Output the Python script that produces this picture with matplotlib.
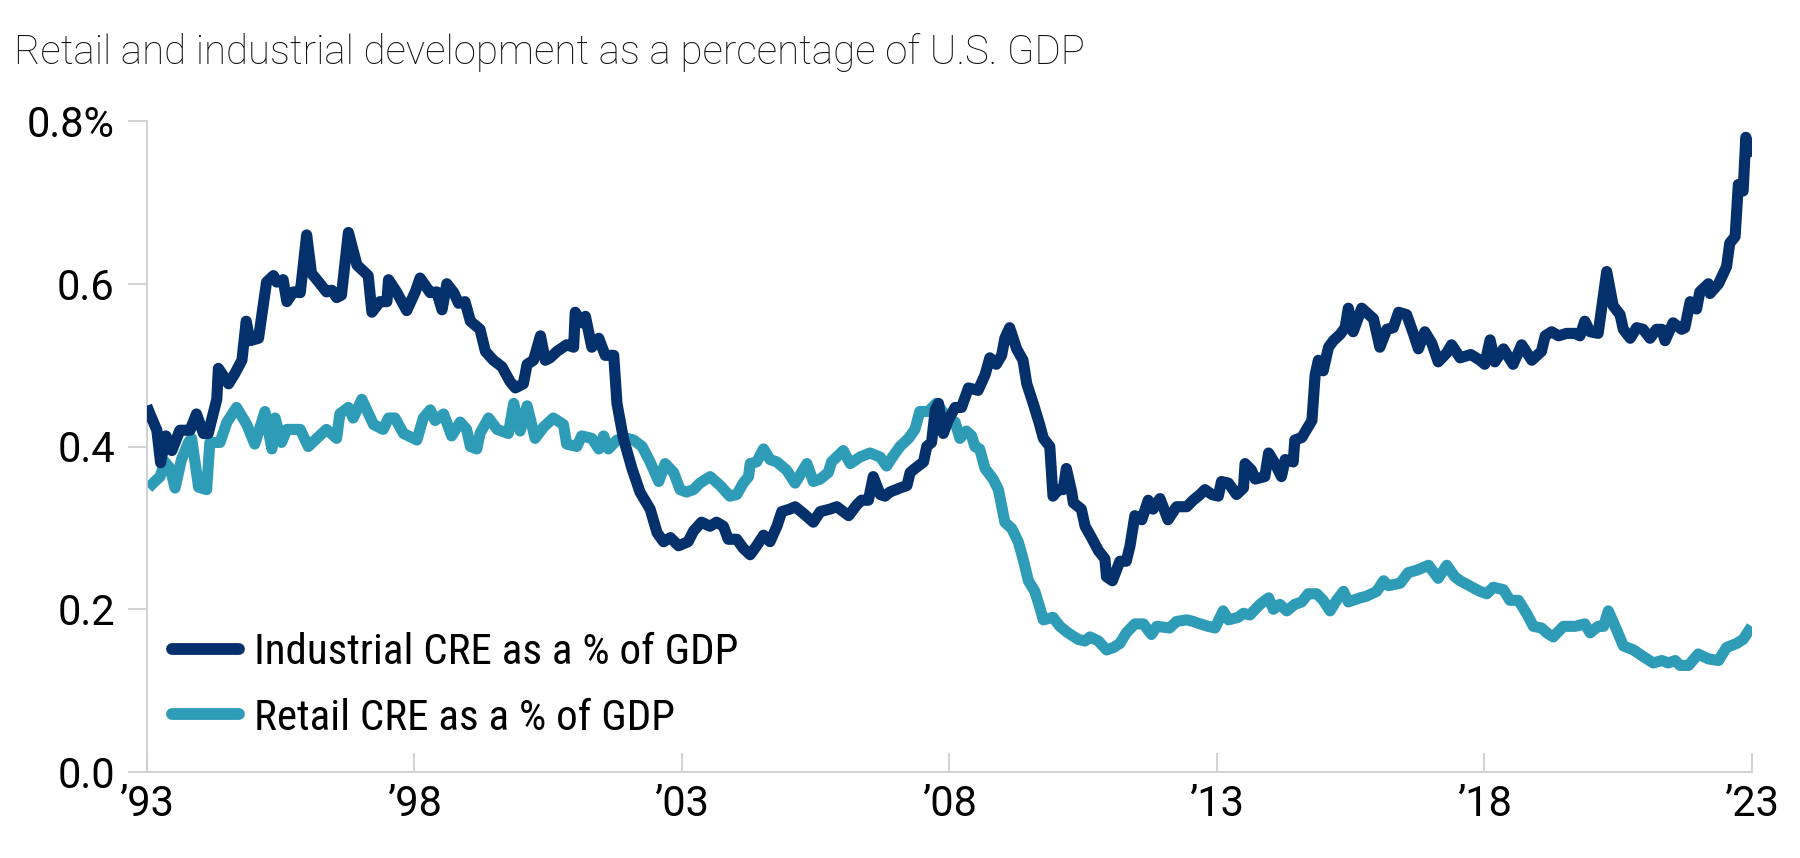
import matplotlib
matplotlib.use("Agg")
import matplotlib.pyplot as plt
from matplotlib import font_manager as fm

# ---------------- data (decimal year, % of GDP) ----------------
ind_years = [
    1993.00, 1993.06, 1993.19, 1993.26, 1993.36, 1993.47, 1993.62, 1993.81, 1993.93, 1994.06,
    1994.15, 1994.31, 1994.34, 1994.53, 1994.65, 1994.78, 1994.86, 1994.93, 1995.09, 1995.24,
    1995.37, 1995.43, 1995.55, 1995.62, 1995.74, 1995.87, 1995.99, 1996.08, 1996.24, 1996.36,
    1996.46, 1996.55, 1996.64, 1996.77, 1996.93, 1997.14, 1997.21, 1997.36, 1997.49, 1997.52,
    1997.67, 1997.86, 1998.02, 1998.11, 1998.30, 1998.42, 1998.52, 1998.61, 1998.74, 1998.83,
    1998.95, 1999.05, 1999.23, 1999.33, 1999.48, 1999.64, 1999.79, 1999.89, 2000.04, 2000.11,
    2000.23, 2000.36, 2000.45, 2000.54, 2000.67, 2000.85, 2000.98, 2001.01, 2001.13, 2001.20,
    2001.32, 2001.45, 2001.57, 2001.73, 2001.79, 2001.91, 2002.07, 2002.22, 2002.41, 2002.54,
    2002.66, 2002.79, 2002.94, 2003.12, 2003.22, 2003.37, 2003.53, 2003.65, 2003.78, 2003.87,
    2004.03, 2004.15, 2004.28, 2004.40, 2004.53, 2004.65, 2004.78, 2004.87, 2005.02, 2005.12,
    2005.27, 2005.46, 2005.59, 2005.77, 2005.90, 2006.12, 2006.27, 2006.36, 2006.49, 2006.58,
    2006.71, 2006.80, 2006.89, 2007.08, 2007.21, 2007.27, 2007.36, 2007.52, 2007.58, 2007.67,
    2007.74, 2007.80, 2007.89, 2007.98, 2008.11, 2008.23, 2008.36, 2008.54, 2008.67, 2008.76,
    2008.88, 2008.98, 2009.04, 2009.13, 2009.26, 2009.38, 2009.45, 2009.57, 2009.69, 2009.76,
    2009.88, 2009.94, 2010.04, 2010.13, 2010.19, 2010.29, 2010.32, 2010.47, 2010.54, 2010.66,
    2010.79, 2010.91, 2010.94, 2011.05, 2011.19, 2011.31, 2011.38, 2011.47, 2011.60, 2011.72,
    2011.81, 2011.94, 2012.09, 2012.25, 2012.44, 2012.56, 2012.69, 2012.78, 2012.91, 2013.03,
    2013.09, 2013.22, 2013.37, 2013.50, 2013.53, 2013.65, 2013.72, 2013.90, 2013.97, 2014.09,
    2014.21, 2014.28, 2014.43, 2014.46, 2014.59, 2014.68, 2014.78, 2014.84, 2014.90, 2014.99,
    2015.09, 2015.18, 2015.31, 2015.40, 2015.46, 2015.55, 2015.71, 2015.93, 2016.05, 2016.18,
    2016.30, 2016.40, 2016.55, 2016.68, 2016.77, 2016.89, 2017.02, 2017.14, 2017.30, 2017.39,
    2017.55, 2017.75, 2017.92, 2018.01, 2018.11, 2018.20, 2018.36, 2018.54, 2018.70, 2018.89,
    2019.07, 2019.14, 2019.26, 2019.39, 2019.54, 2019.70, 2019.79, 2019.88, 2019.98, 2020.13,
    2020.29, 2020.41, 2020.54, 2020.60, 2020.73, 2020.85, 2020.97, 2021.10, 2021.22, 2021.32,
    2021.38, 2021.53, 2021.69, 2021.75, 2021.85, 2021.97, 2022.03, 2022.19, 2022.22, 2022.38,
    2022.53, 2022.59, 2022.69, 2022.75, 2022.84, 2022.89, 2023.00,
]
ind_values = [
    0.450, 0.440, 0.420, 0.380, 0.413, 0.395, 0.420, 0.420, 0.440, 0.416,
    0.416, 0.458, 0.496, 0.477, 0.490, 0.506, 0.554, 0.530, 0.533, 0.602,
    0.610, 0.602, 0.605, 0.578, 0.590, 0.589, 0.660, 0.613, 0.600, 0.590,
    0.592, 0.583, 0.586, 0.663, 0.623, 0.610, 0.565, 0.578, 0.578, 0.605,
    0.590, 0.567, 0.590, 0.607, 0.589, 0.590, 0.568, 0.600, 0.589, 0.576,
    0.578, 0.554, 0.544, 0.517, 0.506, 0.498, 0.480, 0.472, 0.477, 0.501,
    0.506, 0.536, 0.506, 0.509, 0.517, 0.525, 0.522, 0.565, 0.552, 0.560,
    0.522, 0.533, 0.512, 0.512, 0.453, 0.410, 0.373, 0.344, 0.323, 0.294,
    0.283, 0.288, 0.278, 0.283, 0.296, 0.307, 0.302, 0.307, 0.302, 0.286,
    0.286, 0.275, 0.267, 0.278, 0.291, 0.283, 0.302, 0.320, 0.323, 0.326,
    0.318, 0.307, 0.320, 0.323, 0.326, 0.315, 0.328, 0.334, 0.334, 0.363,
    0.341, 0.339, 0.344, 0.349, 0.352, 0.368, 0.373, 0.381, 0.400, 0.405,
    0.445, 0.453, 0.416, 0.432, 0.448, 0.448, 0.472, 0.469, 0.488, 0.509,
    0.501, 0.512, 0.533, 0.546, 0.520, 0.506, 0.477, 0.453, 0.427, 0.410,
    0.400, 0.339, 0.347, 0.347, 0.373, 0.344, 0.331, 0.323, 0.302, 0.288,
    0.272, 0.262, 0.240, 0.235, 0.259, 0.259, 0.278, 0.315, 0.310, 0.334,
    0.323, 0.336, 0.310, 0.326, 0.326, 0.334, 0.341, 0.347, 0.341, 0.339,
    0.357, 0.355, 0.341, 0.349, 0.379, 0.371, 0.360, 0.363, 0.392, 0.379,
    0.363, 0.384, 0.381, 0.408, 0.411, 0.421, 0.432, 0.488, 0.506, 0.493,
    0.522, 0.530, 0.538, 0.546, 0.570, 0.541, 0.570, 0.557, 0.522, 0.544,
    0.546, 0.565, 0.562, 0.538, 0.520, 0.541, 0.527, 0.504, 0.515, 0.525,
    0.509, 0.513, 0.506, 0.501, 0.531, 0.504, 0.520, 0.501, 0.525, 0.506,
    0.517, 0.536, 0.541, 0.536, 0.539, 0.539, 0.536, 0.554, 0.541, 0.539,
    0.615, 0.573, 0.562, 0.544, 0.533, 0.546, 0.544, 0.533, 0.544, 0.544,
    0.530, 0.552, 0.544, 0.546, 0.578, 0.569, 0.590, 0.600, 0.588, 0.600,
    0.621, 0.650, 0.658, 0.722, 0.714, 0.780, 0.756,
]

ret_years = [
    1993.03, 1993.12, 1993.25, 1993.34, 1993.44, 1993.53, 1993.65, 1993.78, 1993.84, 1993.97,
    1994.12, 1994.18, 1994.37, 1994.50, 1994.68, 1994.87, 1995.02, 1995.21, 1995.34, 1995.40,
    1995.52, 1995.62, 1995.87, 1996.02, 1996.18, 1996.36, 1996.55, 1996.61, 1996.77, 1996.86,
    1997.02, 1997.24, 1997.42, 1997.52, 1997.64, 1997.80, 1998.05, 1998.17, 1998.30, 1998.39,
    1998.55, 1998.70, 1998.86, 1998.98, 1999.05, 1999.17, 1999.23, 1999.39, 1999.55, 1999.76,
    1999.86, 1999.98, 2000.11, 2000.26, 2000.42, 2000.60, 2000.79, 2000.85, 2001.04, 2001.13,
    2001.32, 2001.45, 2001.54, 2001.63, 2001.79, 2001.98, 2002.10, 2002.26, 2002.41, 2002.57,
    2002.69, 2002.85, 2002.97, 2003.09, 2003.22, 2003.34, 2003.53, 2003.72, 2003.90, 2004.03,
    2004.15, 2004.25, 2004.28, 2004.40, 2004.53, 2004.65, 2004.78, 2004.96, 2005.12, 2005.24,
    2005.34, 2005.46, 2005.59, 2005.74, 2005.80, 2006.02, 2006.15, 2006.33, 2006.52, 2006.71,
    2006.83, 2006.96, 2007.08, 2007.24, 2007.36, 2007.45, 2007.61, 2007.76, 2007.95, 2008.04,
    2008.11, 2008.20, 2008.32, 2008.42, 2008.48, 2008.57, 2008.67, 2008.82, 2008.92, 2009.04,
    2009.17, 2009.29, 2009.38, 2009.48, 2009.60, 2009.69, 2009.76, 2009.94, 2010.07, 2010.22,
    2010.41, 2010.54, 2010.63, 2010.79, 2010.94, 2011.07, 2011.19, 2011.31, 2011.47, 2011.63,
    2011.78, 2011.88, 2012.12, 2012.25, 2012.44, 2012.56, 2012.69, 2012.84, 2012.97, 2013.12,
    2013.22, 2013.40, 2013.50, 2013.62, 2013.81, 2013.97, 2014.06, 2014.18, 2014.31, 2014.46,
    2014.59, 2014.71, 2014.87, 2014.99, 2015.12, 2015.24, 2015.37, 2015.46, 2015.68, 2015.80,
    2015.99, 2016.12, 2016.21, 2016.43, 2016.58, 2016.74, 2016.96, 2017.14, 2017.30, 2017.45,
    2017.55, 2017.75, 2017.92, 2018.05, 2018.17, 2018.36, 2018.48, 2018.64, 2018.79, 2018.92,
    2019.07, 2019.17, 2019.29, 2019.48, 2019.70, 2019.88, 2019.98, 2020.13, 2020.23, 2020.32,
    2020.48, 2020.60, 2020.79, 2020.97, 2021.16, 2021.32, 2021.44, 2021.57, 2021.66, 2021.82,
    2022.00, 2022.19, 2022.38, 2022.53, 2022.72, 2022.84, 2023.00,
]
ret_values = [
    0.349, 0.355, 0.363, 0.381, 0.373, 0.349, 0.384, 0.405, 0.410, 0.350,
    0.347, 0.405, 0.405, 0.430, 0.448, 0.427, 0.403, 0.443, 0.397, 0.435,
    0.405, 0.421, 0.421, 0.400, 0.410, 0.421, 0.410, 0.440, 0.448, 0.435,
    0.458, 0.427, 0.421, 0.435, 0.435, 0.416, 0.408, 0.435, 0.445, 0.432,
    0.440, 0.413, 0.430, 0.421, 0.400, 0.397, 0.416, 0.435, 0.421, 0.416,
    0.453, 0.419, 0.450, 0.410, 0.424, 0.435, 0.427, 0.403, 0.400, 0.413,
    0.410, 0.397, 0.413, 0.397, 0.408, 0.410, 0.408, 0.400, 0.381, 0.357,
    0.379, 0.368, 0.347, 0.344, 0.347, 0.355, 0.363, 0.352, 0.339, 0.341,
    0.355, 0.363, 0.379, 0.381, 0.397, 0.384, 0.381, 0.371, 0.355, 0.368,
    0.379, 0.357, 0.360, 0.368, 0.381, 0.395, 0.379, 0.387, 0.392, 0.387,
    0.376, 0.389, 0.400, 0.410, 0.421, 0.443, 0.443, 0.453, 0.437, 0.432,
    0.430, 0.410, 0.419, 0.413, 0.400, 0.397, 0.373, 0.360, 0.347, 0.307,
    0.299, 0.283, 0.262, 0.235, 0.222, 0.203, 0.187, 0.190, 0.179, 0.171,
    0.163, 0.161, 0.166, 0.161, 0.150, 0.153, 0.158, 0.171, 0.182, 0.182,
    0.169, 0.179, 0.177, 0.185, 0.187, 0.185, 0.182, 0.179, 0.177, 0.198,
    0.187, 0.190, 0.195, 0.193, 0.206, 0.214, 0.200, 0.206, 0.198, 0.206,
    0.209, 0.219, 0.219, 0.211, 0.198, 0.211, 0.222, 0.209, 0.214, 0.216,
    0.222, 0.235, 0.229, 0.232, 0.245, 0.248, 0.254, 0.238, 0.254, 0.240,
    0.235, 0.228, 0.222, 0.219, 0.227, 0.224, 0.211, 0.211, 0.195, 0.179,
    0.177, 0.171, 0.166, 0.179, 0.179, 0.182, 0.171, 0.179, 0.179, 0.198,
    0.174, 0.155, 0.150, 0.142, 0.134, 0.137, 0.134, 0.137, 0.131, 0.131,
    0.145, 0.139, 0.137, 0.153, 0.158, 0.163, 0.179,
]

series_labels = ["Industrial CRE as a % of GDP", "Retail CRE as a % of GDP"]
x_ticks = [1993, 1998, 2003, 2008, 2013, 2018, 2023]
x_tick_labels = ["\u201993", "\u201998", "\u201903", "\u201908", "\u201913", "\u201918", "\u201923"]
y_ticks = [0.0, 0.2, 0.4, 0.6, 0.8]
y_tick_labels = ["0.0", "0.2", "0.4", "0.6", "0.8%"]
title = "Retail and industrial development as a percentage of U.S. GDP"

# ---------------- fonts ----------------
available = {f.name for f in fm.fontManager.ttflist}
def pick(cands):
    for c in cands:
        if c in available:
            return c
    return "DejaVu Sans"

title_font = pick(["Roboto", "Open Sans", "Roboto Condensed"])
legend_font = pick(["Roboto Condensed", "Liberation Sans Narrow", "Roboto"])
tick_font = pick(["Roboto", "Open Sans", "Roboto Condensed"])

NAVY = "#04306B"
TEAL = "#2E9CB6"
GRID = "#CFCFCF"

fig = plt.figure(figsize=(18, 8.58), dpi=100)
ax = fig.add_axes([146.7 / 1800, 1 - 772 / 858, (1751.7 - 146.7) / 1800, (772 - 121) / 858])

ax.plot(ind_years, ind_values, color=NAVY, lw=8, solid_joinstyle="round",
        solid_capstyle="butt", label=series_labels[0], zorder=3)
ax.plot(ret_years, ret_values, color=TEAL, lw=8, solid_joinstyle="round",
        solid_capstyle="butt", label=series_labels[1], zorder=2)

ax.set_xlim(1993, 2023)
ax.set_ylim(0, 0.8)

for s in ["top", "right"]:
    ax.spines[s].set_visible(False)
for s in ["left", "bottom"]:
    ax.spines[s].set_color(GRID)
    ax.spines[s].set_linewidth(1.3)

ax.set_xticks(x_ticks)
ax.set_xticklabels(x_tick_labels, fontfamily=tick_font, fontsize=30)
ax.set_yticks(y_ticks)
ax.set_yticklabels(y_tick_labels, fontfamily=tick_font, fontsize=30)
ax.tick_params(axis="x", direction="in", length=14, width=1.3, color=GRID, pad=9)
ax.tick_params(axis="y", direction="out", length=14, width=1.3, color=GRID, pad=9)

fig.text(14 / 1800, 1 - 52 / 858, title, fontfamily=title_font, fontweight="light",
         fontsize=29, va="center", ha="left", color="#111111")

leg = ax.legend(loc="center left", bbox_to_anchor=(172 / 1800, 1 - 685.5 / 858),
                bbox_transform=fig.transFigure, frameon=False, borderpad=0,
                borderaxespad=0, handlelength=1.55, handletextpad=0.35,
                labelspacing=0.56, prop={"family": legend_font, "size": 31})
for h in leg.get_lines():
    h.set_linewidth(8.5)
    h.set_solid_capstyle("round")

fig.savefig("out.png", dpi=100)
